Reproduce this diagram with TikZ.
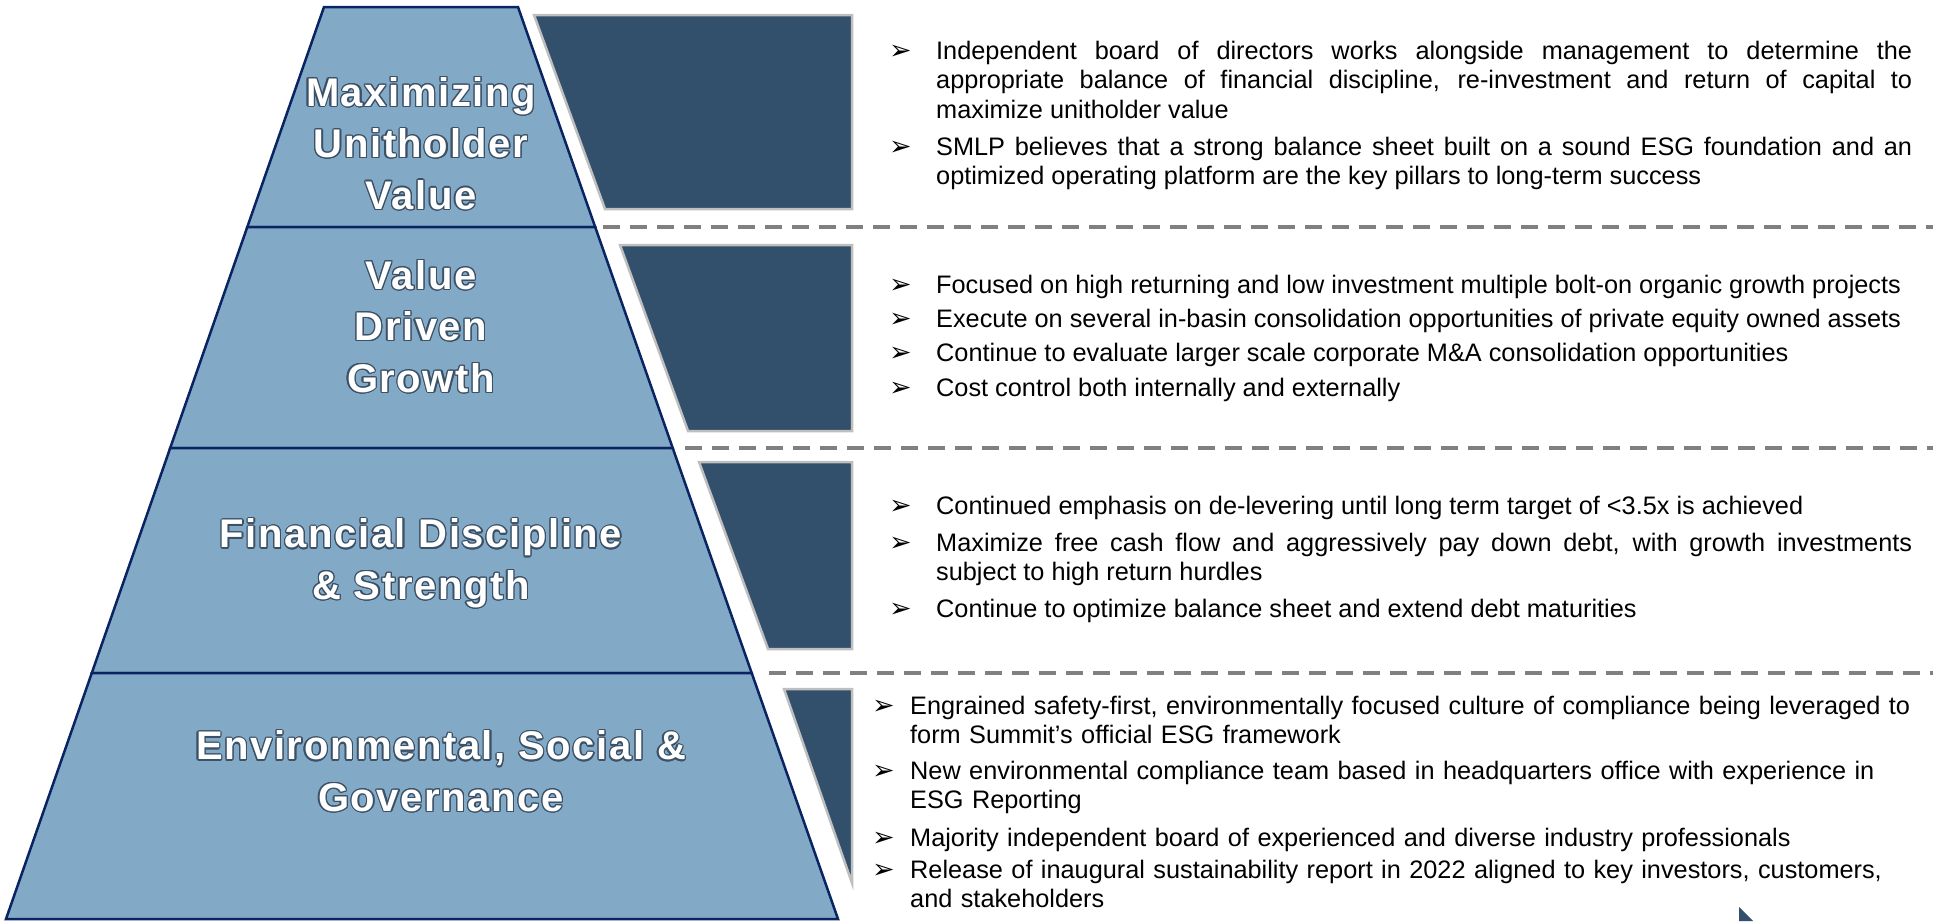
\documentclass[tikz,border=0pt]{standalone}
\usepackage{fontspec}
\setmainfont{Liberation Sans}
\newfontfamily\titlefont[LetterSpace=4]{Liberation Sans}
\newfontfamily\dingfont{DejaVu Sans}
\usepackage[copies]{contour}
\contourlength{1.2pt}

\definecolor{tierfill}{RGB}{130,170,198}
\definecolor{tieredge}{RGB}{10,36,99}
\definecolor{panelfill}{RGB}{50,79,107}
\definecolor{paneledge}{RGB}{191,191,191}
\definecolor{sepgray}{RGB}{128,128,128}
\definecolor{titleedge}{RGB}{60,80,102}

\newcommand{\tiertext}[1]{\contour{titleedge}{#1}}

\tikzset{
  tier/.style={fill=tierfill, draw=tieredge, line width=2.5pt},
  darkpanel/.style={fill=panelfill, draw=paneledge, line width=2.5pt},
  sepline/.style={draw=sepgray, line width=4pt, dash pattern=on 17pt off 10pt},
  tiertitle/.style={text=white, align=center, inner sep=0pt,
    font={\titlefont\bfseries\fontsize{40}{51.5}\selectfont}},
  bulletmark/.style={anchor=base west, inner sep=0pt,
    font={\dingfont\fontsize{27}{29}\selectfont}},
  itemtext/.style={anchor=base west, inner sep=0pt, text width=#1, align=justify,
    font={\fontsize{25.3}{29.5}\selectfont\hyphenpenalty=10000\exhyphenpenalty=10000}},
  itemleft/.style={itemtext=#1, align=left},
}

\begin{document}
\begin{tikzpicture}[x=1pt, y=-1pt]
  \useasboundingbox (0,0) rectangle (1933,921);

  % pyramid tiers
  \draw[tier] (324,7) -- (518,7) -- (595.2,227) -- (247.3,227) -- cycle;
  \draw[tier] (247.3,227) -- (595.2,227) -- (672.7,448) -- (170.2,448) -- cycle;
  \draw[tier] (170.2,448) -- (672.7,448) -- (751.7,673) -- (91.8,673) -- cycle;
  \draw[tier] (91.8,673) -- (751.7,673) -- (838,919) -- (6,919) -- cycle;

  % dark panels beside the tiers
  \draw[darkpanel] (534,15) -- (852,15) -- (852,209) -- (605,209) -- cycle;
  \draw[darkpanel] (620,245) -- (852,245) -- (852,431) -- (688,431) -- cycle;
  \draw[darkpanel] (699,462) -- (852,462) -- (852,649) -- (768,649) -- cycle;
  \draw[darkpanel] (784,689) -- (852,689) -- (852,883) -- cycle;
  \fill[panelfill] (1739,907) -- (1753,921) -- (1739,921) -- cycle;

  % separators
  \draw[sepline] (603,227) -- (1933,227);
  \draw[sepline] (685,448) -- (1933,448);
  \draw[sepline] (769,673) -- (1933,673);

  % tier titles
  \node[tiertitle] (muv) at (421,144) {\tiertext{Maximizing}\\\tiertext{Unitholder}\\\tiertext{Value}};
  \node[tiertitle] (vdg) at (421,327) {\tiertext{Value}\\\tiertext{Driven}\\\tiertext{Growth}};
  \node[tiertitle] (fds) at (421,564) {\tiertext{Financial Discipline}\\\tiertext{\& Strength}};
  \node[tiertitle] (esg) at (441,772) {\tiertext{Environmental, Social \&}\\\tiertext{Governance}};

  % unitholder value
  \node[bulletmark] (b11) at (889,59) {➢};
  \node[itemtext=976pt] (t11) at (936,59) {Independent board of directors works alongside management to determine the\linebreak appropriate balance of financial discipline, re-investment and return of capital to\linebreak maximize unitholder value};
  \node[bulletmark] (b12) at (889,155) {➢};
  \node[itemtext=976pt] (t12) at (936,155) {SMLP believes that a strong balance sheet built on a sound ESG foundation and an\linebreak optimized operating platform are the key pillars to long-term success};

  % growth
  \node[bulletmark] (b21) at (889,293) {➢};
  \node[itemtext=976pt] (t21) at (936,293) {Focused on high returning and low investment multiple bolt-on organic growth projects};
  \node[bulletmark] (b22) at (889,327) {➢};
  \node[itemtext=976pt] (t22) at (936,327) {Execute on several in-basin consolidation opportunities of private equity owned assets};
  \node[bulletmark] (b23) at (889,361) {➢};
  \node[itemtext=976pt] (t23) at (936,361) {Continue to evaluate larger scale corporate M\&A consolidation opportunities};
  \node[bulletmark] (b24) at (889,396) {➢};
  \node[itemtext=976pt] (t24) at (936,396) {Cost control both internally and externally};

  % financial discipline
  \node[bulletmark] (b31) at (889,514) {➢};
  \node[itemtext=976pt] (t31) at (936,514) {Continued emphasis on de-levering until long term target of <3.5x is achieved};
  \node[bulletmark] (b32) at (889,551) {➢};
  \node[itemtext=976pt] (t32) at (936,551) {Maximize free cash flow and aggressively pay down debt, with growth investments\linebreak subject to high return hurdles};
  \node[bulletmark] (b33) at (889,617) {➢};
  \node[itemtext=976pt] (t33) at (936,617) {Continue to optimize balance sheet and extend debt maturities};

  % esg
  \node[bulletmark] (b41) at (872,714) {➢};
  \node[itemleft=1002pt] (t41) at (910,714) {Engrained safety-first, environmentally focused culture of compliance being leveraged to\\form Summit’s official ESG framework};
  \node[bulletmark] (b42) at (872,779) {➢};
  \node[itemleft=1002pt] (t42) at (910,779) {New environmental compliance team based in headquarters office with experience in\\ESG Reporting};
  \node[bulletmark] (b43) at (872,846) {➢};
  \node[itemleft=1002pt] (t43) at (910,846) {Majority independent board of experienced and diverse industry professionals};
  \node[bulletmark] (b44) at (872,878) {➢};
  \node[itemleft=1002pt] (t44) at (910,878) {Release of inaugural sustainability report in 2022 aligned to key investors, customers,\\and stakeholders};
\end{tikzpicture}
\end{document}
